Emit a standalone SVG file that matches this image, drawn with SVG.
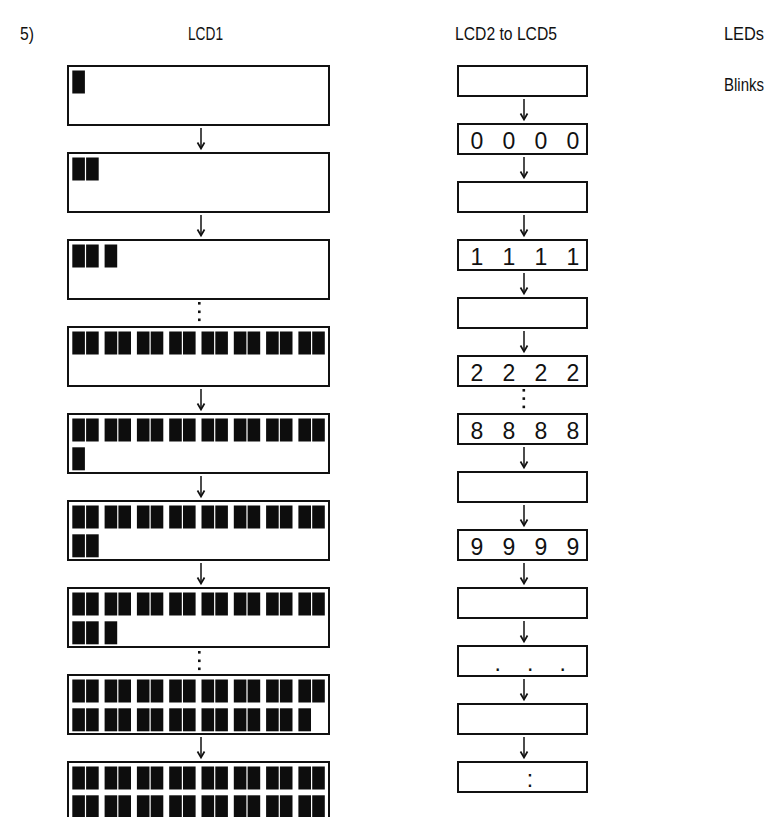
<svg xmlns="http://www.w3.org/2000/svg" xmlns:xlink="http://www.w3.org/1999/xlink" width="773" height="817" viewBox="0 0 773 817">
<style>
.lbl{font-family:"Liberation Sans",Arial,sans-serif;font-size:18px;fill:#111}
.dig{font-family:"Liberation Sans",Arial,sans-serif;font-size:23px;fill:#111;text-anchor:middle}
.box{fill:#fff;stroke:#111;stroke-width:2}
.blk{fill:#0d0d0d}
.arr{stroke:#111;stroke-width:1.5;fill:none}
.ah{stroke:#111;stroke-width:1.7;fill:none;stroke-linejoin:miter}
.dot{fill:#111}
</style>
<defs>
<rect id="b" class="blk" x="0" y="0" width="12.6" height="23"/>
<g id="p"><use xlink:href="#b" x="0"/><use xlink:href="#b" x="13.8"/></g>
<g id="row">
<use xlink:href="#p" x="72.3"/><use xlink:href="#p" x="104.6"/><use xlink:href="#p" x="136.9"/><use xlink:href="#p" x="169.2"/>
<use xlink:href="#p" x="201.5"/><use xlink:href="#p" x="233.8"/><use xlink:href="#p" x="266.1"/><use xlink:href="#p" x="298.4"/>
</g>
<g id="ad"><line x1="0" y1="0" x2="0" y2="20" class="arr"/><path d="M-3.5,14.5 L0,20.5 L3.5,14.5" class="ah"/></g>
</defs>
<rect width="773" height="817" fill="#fff"/>

<g id="labels">
<text class="lbl" x="20" y="40" textLength="14" lengthAdjust="spacingAndGlyphs">5)</text>
<text class="lbl" x="188" y="40" textLength="35" lengthAdjust="spacingAndGlyphs">LCD1</text>
<text class="lbl" x="455" y="40" textLength="102" lengthAdjust="spacingAndGlyphs">LCD2 to LCD5</text>
<text class="lbl" x="724" y="40" textLength="40" lengthAdjust="spacingAndGlyphs">LEDs</text>
<text class="lbl" x="724" y="91" textLength="40" lengthAdjust="spacingAndGlyphs">Blinks</text>
</g>

<g id="lcd1-1"><rect class="box" x="68" y="66" width="261" height="59"/><use xlink:href="#b" x="72.3" y="70.5"/></g>
<g id="lcd1-2"><rect class="box" x="68" y="153" width="261" height="59"/><use xlink:href="#p" x="72.3" y="157.5"/></g>
<g id="lcd1-3"><rect class="box" x="68" y="240" width="261" height="59"/><use xlink:href="#p" x="72.3" y="244.5"/><use xlink:href="#b" x="104.6" y="244.5"/></g>
<g id="lcd1-4"><rect class="box" x="68" y="327" width="261" height="59"/><use xlink:href="#row" y="331.5"/></g>
<g id="lcd1-5"><rect class="box" x="68" y="414" width="261" height="59"/><use xlink:href="#row" y="418.5"/><use xlink:href="#b" x="72.3" y="447.3"/></g>
<g id="lcd1-6"><rect class="box" x="68" y="501" width="261" height="59"/><use xlink:href="#row" y="505.5"/><use xlink:href="#p" x="72.3" y="534.3"/></g>
<g id="lcd1-7"><rect class="box" x="68" y="588" width="261" height="59"/><use xlink:href="#row" y="592.5"/><use xlink:href="#p" x="72.3" y="621.3"/><use xlink:href="#b" x="104.6" y="621.3"/></g>
<g id="lcd1-8"><rect class="box" x="68" y="675" width="261" height="59"/><use xlink:href="#row" y="679.5"/>
<use xlink:href="#p" x="72.3" y="708.3"/><use xlink:href="#p" x="104.6" y="708.3"/><use xlink:href="#p" x="136.9" y="708.3"/><use xlink:href="#p" x="169.2" y="708.3"/>
<use xlink:href="#p" x="201.5" y="708.3"/><use xlink:href="#p" x="233.8" y="708.3"/><use xlink:href="#p" x="266.1" y="708.3"/><use xlink:href="#b" x="298.4" y="708.3"/></g>
<g id="lcd1-9"><rect class="box" x="68" y="762" width="261" height="59"/><use xlink:href="#row" y="766.5"/><use xlink:href="#row" y="795.3"/></g>

<g id="lcd2-1"><rect class="box" x="458" y="66" width="129" height="30"/></g>
<g id="lcd2-2"><rect class="box" x="458" y="124" width="129" height="30"/><text class="dig" y="148.5"><tspan x="477">0</tspan><tspan x="509">0</tspan><tspan x="541">0</tspan><tspan x="573">0</tspan></text></g>
<g id="lcd2-3"><rect class="box" x="458" y="182" width="129" height="30"/></g>
<g id="lcd2-4"><rect class="box" x="458" y="240" width="129" height="30"/><text class="dig" y="264.5"><tspan x="477">1</tspan><tspan x="509">1</tspan><tspan x="541">1</tspan><tspan x="573">1</tspan></text></g>
<g id="lcd2-5"><rect class="box" x="458" y="298" width="129" height="30"/></g>
<g id="lcd2-6"><rect class="box" x="458" y="356" width="129" height="30"/><text class="dig" y="380.5"><tspan x="477">2</tspan><tspan x="509">2</tspan><tspan x="541">2</tspan><tspan x="573">2</tspan></text></g>
<g id="lcd2-7"><rect class="box" x="458" y="414" width="129" height="30"/><text class="dig" y="438.5"><tspan x="477">8</tspan><tspan x="509">8</tspan><tspan x="541">8</tspan><tspan x="573">8</tspan></text></g>
<g id="lcd2-8"><rect class="box" x="458" y="472" width="129" height="30"/></g>
<g id="lcd2-9"><rect class="box" x="458" y="530" width="129" height="30"/><text class="dig" y="554.5"><tspan x="477">9</tspan><tspan x="509">9</tspan><tspan x="541">9</tspan><tspan x="573">9</tspan></text></g>
<g id="lcd2-10"><rect class="box" x="458" y="588" width="129" height="30"/></g>
<g id="lcd2-11"><rect class="box" x="458" y="646" width="129" height="30"/><text class="dig" y="670.5"><tspan x="497.7">.</tspan><tspan x="530.3">.</tspan><tspan x="562.7">.</tspan></text></g>
<g id="lcd2-12"><rect class="box" x="458" y="704" width="129" height="30"/></g>
<g id="lcd2-13"><rect class="box" x="458" y="762" width="129" height="30"/><text class="dig" x="530" y="786.5">:</text></g>

<g id="connectors">
<use xlink:href="#ad" x="201" y="128"/>
<use xlink:href="#ad" x="201" y="215"/>
<rect class="dot" x="198" y="302" width="2.6" height="2.6"/><rect class="dot" x="198" y="310.5" width="2.6" height="2.6"/><rect class="dot" x="198" y="318.5" width="2.6" height="2.6"/>
<use xlink:href="#ad" x="201" y="389"/>
<use xlink:href="#ad" x="201" y="476"/>
<use xlink:href="#ad" x="201" y="563"/>
<rect class="dot" x="198" y="651" width="2.6" height="2.6"/><rect class="dot" x="198" y="659.5" width="2.6" height="2.6"/><rect class="dot" x="198" y="667.5" width="2.6" height="2.6"/>
<use xlink:href="#ad" x="201" y="737"/>

<use xlink:href="#ad" x="524" y="99"/>
<use xlink:href="#ad" x="524" y="157"/>
<use xlink:href="#ad" x="524" y="215"/>
<use xlink:href="#ad" x="524" y="273"/>
<use xlink:href="#ad" x="524" y="331"/>
<rect class="dot" x="522.5" y="389" width="2.6" height="2.6"/><rect class="dot" x="522.5" y="397.3" width="2.6" height="2.6"/><rect class="dot" x="522.5" y="405.6" width="2.6" height="2.6"/>
<use xlink:href="#ad" x="524" y="447"/>
<use xlink:href="#ad" x="524" y="505"/>
<use xlink:href="#ad" x="524" y="563"/>
<use xlink:href="#ad" x="524" y="621"/>
<use xlink:href="#ad" x="524" y="679"/>
<use xlink:href="#ad" x="524" y="737"/>
</g>
</svg>
